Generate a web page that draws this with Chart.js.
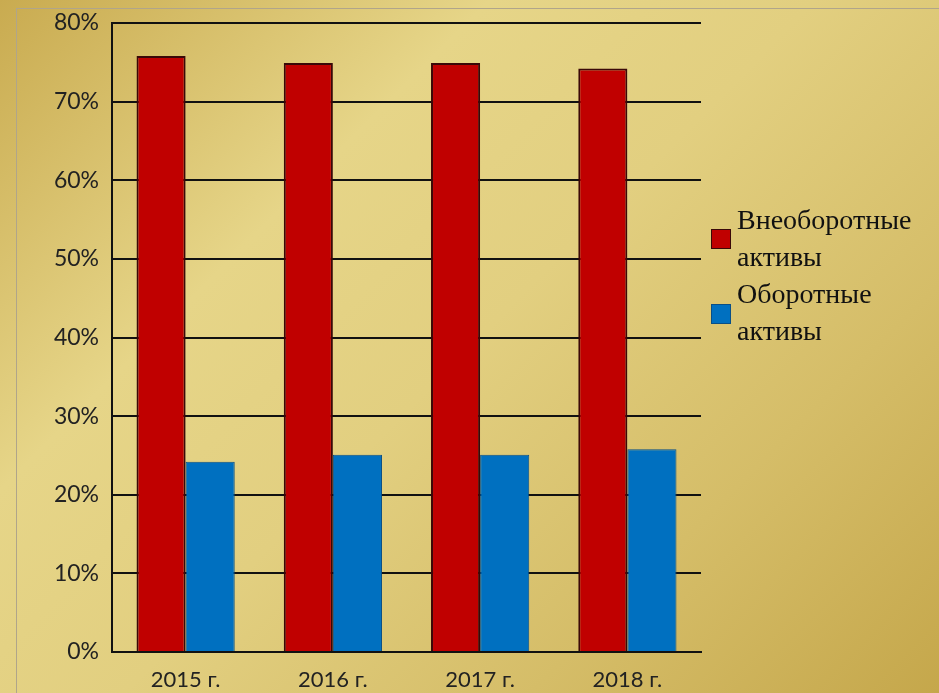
<!DOCTYPE html>
<html>
<head>
<meta charset="utf-8">
<script src="https://cdn.jsdelivr.net/npm/chart.js@4.4.0/dist/chart.umd.min.js"></script>
<style>
  html, body { margin: 0; padding: 0; }
  body {
    width: 939px; height: 693px; overflow: hidden; position: relative;
    background: linear-gradient(135deg, #c9ab50 0%, #e6d588 30%, #e2cf80 50%, #d5bd68 75%, #c5a74b 100%);
  }
  #frame {
    position: absolute; left: 16px; top: 8px; right: 0; bottom: 0;
    border-top: 1px solid #b0a58a; border-left: 1px solid #b0a58a;
  }
  #wrap { position: absolute; left: 0; top: 0; width: 939px; height: 693px; }
  #legend {
    position: absolute; left: 711px; top: 201px;
    font-family: "Liberation Serif", "DejaVu Serif", serif; font-size: 28px; line-height: 37px; color: #111;
  }
  .item { position: relative; padding-left: 26px; }
  .box { position: absolute; left: 0; width: 20px; height: 20px; }
</style>
</head>
<body>
<div id="frame"></div>
<div id="wrap"><canvas id="chart" width="939" height="693"></canvas></div>
<div id="legend"></div>
<script>
// data
const years = ['2015 г.', '2016 г.', '2017 г.', '2018 г.'];
const nonCurrent = [75.8, 74.9, 74.9, 74.2];
const current = [24.2, 25.1, 25.1, 25.8];
const seriesNames = [['Внеоборотные', 'активы'], ['Оборотные', 'активы']];
const seriesColors = ['#c00000', '#0070c0'];
const borderColors = ['#3a0808', '#0a4f86'];

const ctx = document.getElementById('chart').getContext('2d');
new Chart(ctx, {
  type: 'bar',
  data: {
    labels: years,
    datasets: [
      { label: seriesNames[0].join(' '), data: nonCurrent, backgroundColor: seriesColors[0], borderColor: borderColors[0], borderWidth: 2 },
      { label: seriesNames[1].join(' '), data: current, backgroundColor: seriesColors[1], borderColor: borderColors[1], borderWidth: 1 }
    ]
  },
  options: {
    responsive: false,
    animation: false,
    layout: { padding: { left: 0, right: 238, top: 23, bottom: 0 } },
    datasets: { bar: { categoryPercentage: 0.667, barPercentage: 1.0 } },
    plugins: { legend: { display: false }, tooltip: { enabled: false } },
    scales: {
      x: {
        grid: { display: false, drawTicks: false },
        border: { color: '#111', width: 2 },
        ticks: { color: '#222', padding: 15, font: { family: 'Lato', size: 22 } },
        afterFit: s => { s.height = 41; }
      },
      y: {
        min: 0, max: 80,
        grid: { color: '#111', lineWidth: 2, drawTicks: false },
        border: { color: '#111', width: 2 },
        ticks: {
          stepSize: 10, color: '#222', padding: 13,
          font: { family: 'Lato', size: 23 },
          callback: v => v + '%'
        },
        afterFit: s => { s.width = 112; s.paddingTop = 0; s.paddingBottom = 0; }
      }
    }
  }
});

// legend with wrapped labels, like the original
const legend = document.getElementById('legend');
seriesNames.forEach((lines, i) => {
  const item = document.createElement('div');
  item.className = 'item';
  const box = document.createElement('span');
  box.className = 'box';
  box.style.background = seriesColors[i];
  box.style.top = i === 0 ? '28px' : '29px';
  box.style.boxShadow = 'inset 0 0 0 1px ' + borderColors[i];
  item.appendChild(box);
  item.appendChild(document.createTextNode(lines[0]));
  item.appendChild(document.createElement('br'));
  item.appendChild(document.createTextNode(lines[1]));
  legend.appendChild(item);
});
</script>
</body>
</html>
